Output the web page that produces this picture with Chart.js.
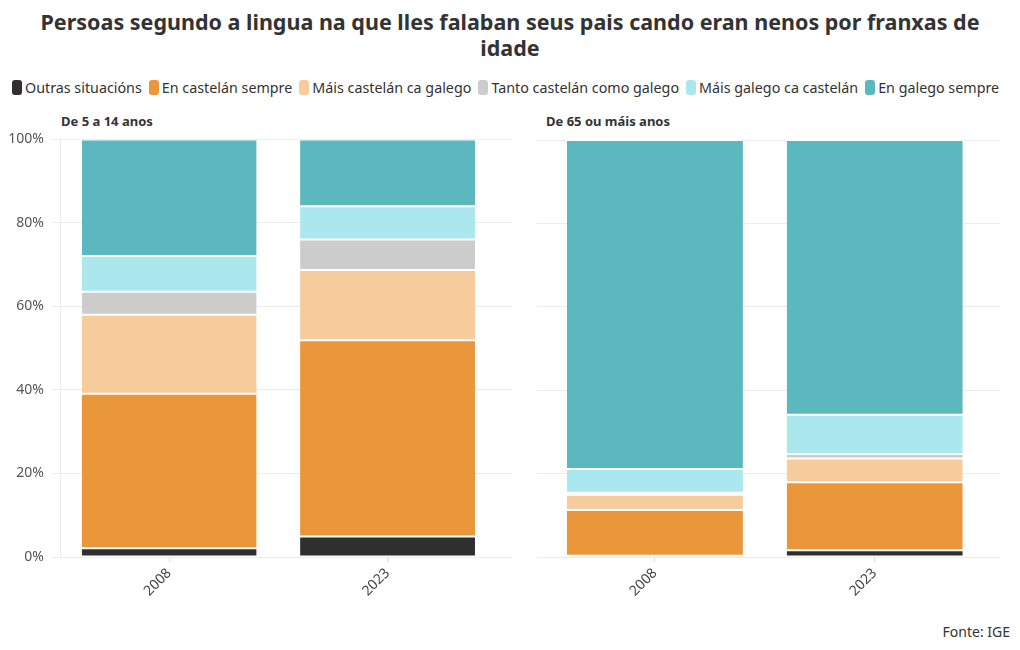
<!DOCTYPE html>
<html>

<head>
  <meta charset="utf-8">
  <title>Persoas segundo a lingua</title>
  <script src="https://cdn.jsdelivr.net/npm/chart.js@4.4.0/dist/chart.umd.min.js"></script>
  <style>
    html,
    body {
      margin: 0;
      padding: 0;
      background: #fff;
      font-family: "Noto Sans", sans-serif;
      color: #333;
    }

    #title {
      position: absolute;
      left: 0;
      width: 1020px;
      top: 9px;
      text-align: center;
      font-weight: 700;
      font-size: 21.5px;
      line-height: 26px;
    }

    #legend {
      position: absolute;
      left: 12px;
      top: 78px;
      display: flex;
      font-size: 14.3px;
      white-space: nowrap;
    }

    #legend span.item {
      display: flex;
      align-items: center;
      margin-right: 7px;
    }

    #legend span.sw {
      display: inline-block;
      width: 10px;
      height: 15px;
      border-radius: 3px;
      margin-right: 3px;
    }

    .panel {
      position: absolute;
      font-weight: 700;
      font-size: 13px;
      top: 112px;
    }

    .box {
      position: absolute;
    }

    #source {
      position: absolute;
      right: 10px;
      top: 622px;
      font-size: 14px;
    }
  </style>
</head>

<body>
  <div id="title">Persoas segundo a lingua na que lles falaban seus pais cando eran nenos por franxas de<br>idade</div>
  <div id="legend"></div>
  <div class="panel" style="left: 61px;">De 5 a 14 anos</div>
  <div class="panel" style="left: 546px;">De 65 ou máis anos</div>
  <div class="box" style="left: 0; top: 123px; width: 520px; height: 487px;"><canvas id="young"></canvas></div>
  <div class="box" style="left: 520px; top: 130px; width: 500px; height: 480px;"><canvas id="old"></canvas></div>
  <div id="source">Fonte: IGE</div>
  <script>
    var years = ['2008', '2023'];
    var seriesNames = ['Outras situacións', 'En castelán sempre', 'Máis castelán ca galego',
      'Tanto castelán como galego', 'Máis galego ca castelán', 'En galego sempre'];
    var colors = ['#2f2f2f', '#ea973b', '#f7cc9d', '#cccccc', '#abe8ed', '#5cb8bf'];

    // De 5 a 14 anos (%)
    var outrasYoung = [2.1, 4.9];
    var castelanYoung = [37.0, 47.0];
    var maisCastelanYoung = [18.9, 16.8];
    var tantoYoung = [5.5, 7.3];
    var maisGalegoYoung = [8.6, 8.0];
    var galegoYoung = [27.9, 16.0];

    // De 65 ou máis anos (%)
    var outrasOld = [0.3, 1.6];
    var castelanOld = [11.0, 16.3];
    var maisCastelanOld = [3.6, 5.7];
    var tantoOld = [0.5, 1.1];
    var maisGalegoOld = [5.7, 9.4];
    var galegoOld = [78.9, 65.9];

    var yTicks = [0, 20, 40, 60, 80, 100];

    // html legend
    var legend = document.getElementById('legend');
    seriesNames.forEach(function(n, i) {
      legend.innerHTML += '<span class="item"><span class="sw" style="background:' + colors[i] + '"></span>' + n + '</span>';
    });

    function makeChart(id, rows, showY) {
      var datasets = rows.map(function(vals, i) {
        return {
          label: seriesNames[i],
          data: vals.map(function(v, j) { return { x: j, y: v }; }),
          backgroundColor: colors[i],
          borderColor: '#fff',
          borderWidth: { top: 1, bottom: 1, left: 0, right: 0 },
          borderSkipped: false,
          categoryPercentage: 0.9,
          barPercentage: 0.89
        };
      });
      return new Chart(document.getElementById(id), {
        type: 'bar',
        data: { datasets: datasets },
        options: {
          responsive: true,
          maintainAspectRatio: false,
          animation: false,
          layout: { padding: { top: showY ? 3 : 10, right: showY ? 8 : 20, left: 0, bottom: 0 } },
          plugins: { legend: { display: false }, tooltip: { enabled: false } },
          scales: {
            x: {
              type: 'linear',
              stacked: true,
              offset: false,
              min: -0.5,
              max: 1.57,
              afterBuildTicks: function(s) { s.ticks = years.map(function(y, j) { return { value: j }; }); },
              afterFit: function(s) { s.height = 53; },
              grid: { drawOnChartArea: false, offset: false, color: '#ddd', tickLength: 5 },
              border: { display: false },
              ticks: {
                minRotation: 45,
                maxRotation: 45,
                color: '#444',
                font: { family: 'Noto Sans', size: 14 },
                callback: function(v) { return years[v]; }
              }
            },
            y: {
              stacked: true,
              min: 0,
              max: 100,
              afterBuildTicks: function(s) { s.ticks = yTicks.map(function(v) { return { value: v }; }); },
              afterFit: function(s) { s.width = showY ? 60 : 25; },
              grid: { color: '#ececec' },
              border: { display: showY, color: '#ececec' },
              ticks: {
                display: showY,
                color: '#555',
                padding: 8,
                font: { family: 'Noto Sans', size: 14 },
                callback: function(v) { return v + '%'; }
              }
            }
          }
        }
      });
    }

    makeChart('young', [outrasYoung, castelanYoung, maisCastelanYoung, tantoYoung, maisGalegoYoung, galegoYoung], true);
    makeChart('old', [outrasOld, castelanOld, maisCastelanOld, tantoOld, maisGalegoOld, galegoOld], false);
  </script>
</body>

</html>
